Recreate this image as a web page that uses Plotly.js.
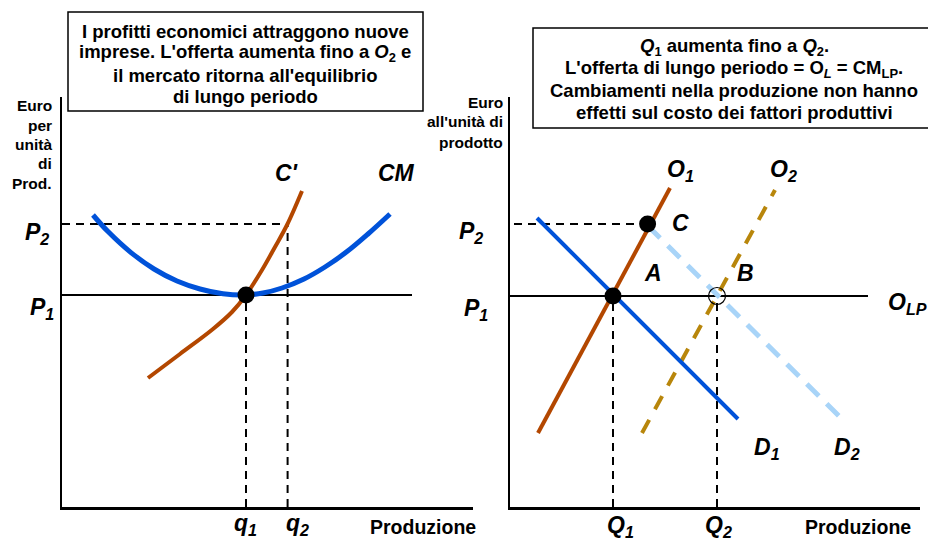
<!DOCTYPE html>
<html>
<head>
<meta charset="utf-8">
<script src="https://cdn.plot.ly/plotly-3.0.1.min.js"></script>
<style>html,body{margin:0;padding:0;background:#fff;}#chart{width:928px;height:538px;}</style>
</head>
<body>
<div id="chart"></div>
<script>
// ---------- Data (economic units) ----------
// Left panel: single firm
const P1_firm = 53;
const P2 = 70.75;
const q1 = 46;
const q2 = 56.4;
// Average cost CM (U-shaped)
const cmX = [7.75, 11.5, 17.25, 23, 28.75, 34.5, 40.25, 46, 50.25, 55, 60.5, 65.75, 71.25, 76.5, 82];
const cmY = [73, 68.85, 63.6, 59.5, 56.5, 54.5, 53.3, 53, 53.5, 54.75, 57, 60, 63.85, 68.25, 73.25];
// Marginal cost C'
const mcX = [21.5, 29.5, 37.75, 42.5, 46, 50, 53.25, 56.25, 60];
const mcY = [32.25, 38.25, 44.5, 48.75, 53, 59.25, 65, 70.5, 79];
const P1_lineEnd = 87.5;

// Right panel: market
const P1_mkt = 52.75;
const Q1 = 25.75;
const Q2 = 51.75;
const o1X = [7, 40],     o1Y = [18.5, 79.75];
const o2X = [33, 66.25], o2Y = [18.5, 79.25];
const d1X = [6.75, 57],  d1Y = [72.25, 22];
const d2X = [34.5, 82.5], d2Y = [70.25, 22.5];
const pointC = [34.4, 70.75];
const OLP_end = 89.5;

// ---------- Helpers ----------
const W = 928, H = 538;
const px = v => v / W;
const py = v => 1 - v / H;
const FONT = 'Liberation Sans, Arial, sans-serif';

const black = '#000000';
const blue = '#0052D9';
const orange = '#B34700';
const gold = '#B8860B';
const lightBlue = '#A8D4F8';

function line(x, y, xa, ya, color, width, dash, shape) {
  return {x: x, y: y, xaxis: xa, yaxis: ya, mode: 'lines', type: 'scatter',
          line: {color: color, width: width, dash: dash || 'solid', shape: shape || 'linear', smoothing: 1},
          hoverinfo: 'skip', showlegend: false};
}
function dot(x, y, xa, ya, open) {
  return {x: x, y: y, xaxis: xa, yaxis: ya, mode: 'markers', type: 'scatter',
          marker: open ? {size: 17, color: 'rgba(0,0,0,0)', line: {color: black, width: 1.2}}
                       : {size: 17, color: black, line: {width: 0}},
          hoverinfo: 'skip', showlegend: false, cliponaxis: false};
}

const traces = [
  // Left panel
  line([0, P1_lineEnd], [P1_firm, P1_firm], 'x', 'y', black, 2),
  line([0, q2], [P2, P2], 'x', 'y', black, 2, '8px,6px'),
  line([q2, q2], [0, P2], 'x', 'y', black, 2, '8px,6px'),
  line([q1, q1], [0, P1_firm], 'x', 'y', black, 2, '8px,6px'),
  line(cmX, cmY, 'x', 'y', blue, 5, 'solid', 'spline'),
  line(mcX, mcY, 'x', 'y', orange, 4, 'solid', 'spline'),
  dot([q1], [P1_firm], 'x', 'y'),
  // Right panel
  line([0, OLP_end], [P1_mkt, P1_mkt], 'x2', 'y2', black, 2),
  line([1, pointC[0]], [P2, P2], 'x2', 'y2', black, 2, '8px,6px'),
  line([Q1, Q1], [0, P1_mkt], 'x2', 'y2', black, 2, '8px,6px'),
  line([Q2, Q2], [0, P1_mkt], 'x2', 'y2', black, 2, '8px,6px'),
  line(d2X, d2Y, 'x2', 'y2', lightBlue, 5, '17px,11px'),
  line(o2X, o2Y, 'x2', 'y2', gold, 4, '15px,12px'),
  line(d1X, d1Y, 'x2', 'y2', blue, 4),
  line(o1X, o1Y, 'x2', 'y2', orange, 4),
  dot([Q1], [P1_mkt], 'x2', 'y2'),
  dot([pointC[0]], [pointC[1]], 'x2', 'y2'),
  dot([Q2], [P1_mkt], 'x2', 'y2', true)
];

// ---------- Text ----------
const labelFont = {family: FONT, size: 23, color: black, weight: 'bold', style: 'italic'};
const annotations = [];
function lab(text, x, y, font, xanchor) {
  annotations.push({text: text, xref: 'paper', yref: 'paper', x: px(x), y: py(y),
                    xanchor: xanchor || 'center', yanchor: 'middle', showarrow: false,
                    font: font || labelFont});
}
// Curve / point labels
lab('P<sub>2</sub>', 37, 233);
lab('P<sub>1</sub>', 42, 308);
lab("C'", 287, 173);
lab('CM', 396, 173);
lab('q<sub>1</sub>', 245, 524);
lab('q<sub>2</sub>', 297, 524);
lab('P<sub>2</sub>', 471, 232);
lab('P<sub>1</sub>', 476, 309);
lab('O<sub>1</sub>', 680, 170);
lab('O<sub>2</sub>', 783, 170);
lab('C', 680, 223);
lab('A', 653, 273);
lab('B', 745, 273);
lab('O<sub>LP</sub>', 907, 303);
lab('D<sub>1</sub>', 767, 448);
lab('D<sub>2</sub>', 847, 448);
lab('Q<sub>1</sub>', 620, 526);
lab('Q<sub>2</sub>', 718, 526);

const axisFont = {family: FONT, size: 19.5, color: black, weight: 'bold'};
lab('Produzione', 423, 527, axisFont);
lab('Produzione', 858, 527, axisFont);

const yFont = {family: FONT, size: 15.5, color: black, weight: 'bold'};
['Euro', 'per', 'unità', 'di', 'Prod.'].forEach((t, i) => lab(t, 54, 106 + i * 19.3, yFont, 'right'));
['Euro', "all'unità di", 'prodotto'].forEach((t, i) => lab(t, 505, 102 + i * 20, yFont, 'right'));

const boxFont = {family: FONT, size: 18.5, color: black, weight: 'bold'};
['I profitti economici attraggono nuove',
 'imprese. L\'offerta aumenta fino a <i>O</i><sub>2</sub> e',
 'il mercato ritorna all\'equilibrio',
 'di lungo periodo'].forEach((t, i) => lab(t, 245.5, 31 + i * 22, boxFont));
['<i>Q</i><sub>1</sub> aumenta fino a <i>Q</i><sub>2</sub>.',
 'L\'offerta di lungo periodo = O<sub><i>L</i></sub> = CM<sub>LP</sub>.',
 'Cambiamenti nella produzione non hanno',
 'effetti sul costo dei fattori produttivi'].forEach((t, i) => lab(t, 734, 47 + i * 22, boxFont));

const shapes = [
  {type: 'rect', xref: 'paper', yref: 'paper', x0: px(68), x1: px(423), y0: py(12), y1: py(111),
   line: {color: black, width: 1.5}, fillcolor: '#ffffff', layer: 'below'},
  {type: 'rect', xref: 'paper', yref: 'paper', x0: px(533), x1: px(940), y0: py(28), y1: py(128),
   line: {color: black, width: 1.5}, fillcolor: '#ffffff', layer: 'below'}
];

const axBase = {showgrid: false, zeroline: false, showticklabels: false, ticks: '',
                showline: true, linecolor: black, linewidth: 2.5, fixedrange: true};
const yDom = [1 - 507 / H, 1 - 97 / H];

const layout = {
  width: W, height: H,
  margin: {l: 0, r: 0, t: 0, b: 0},
  paper_bgcolor: '#ffffff', plot_bgcolor: 'rgba(0,0,0,0)',
  showlegend: false,
  xaxis:  Object.assign({}, axBase, {domain: [px(62), px(473)], range: [0, 102.75], anchor: 'y'}),
  yaxis:  Object.assign({}, axBase, {domain: yDom, range: [0, 102.5], anchor: 'x'}),
  xaxis2: Object.assign({}, axBase, {domain: [px(510), px(920)], range: [0, 102.5], anchor: 'y2'}),
  yaxis2: Object.assign({}, axBase, {domain: yDom, range: [0, 102.5], anchor: 'x2'}),
  annotations: annotations,
  shapes: shapes
};

Plotly.newPlot('chart', traces, layout, {staticPlot: true, displayModeBar: false});
</script>
</body>
</html>
